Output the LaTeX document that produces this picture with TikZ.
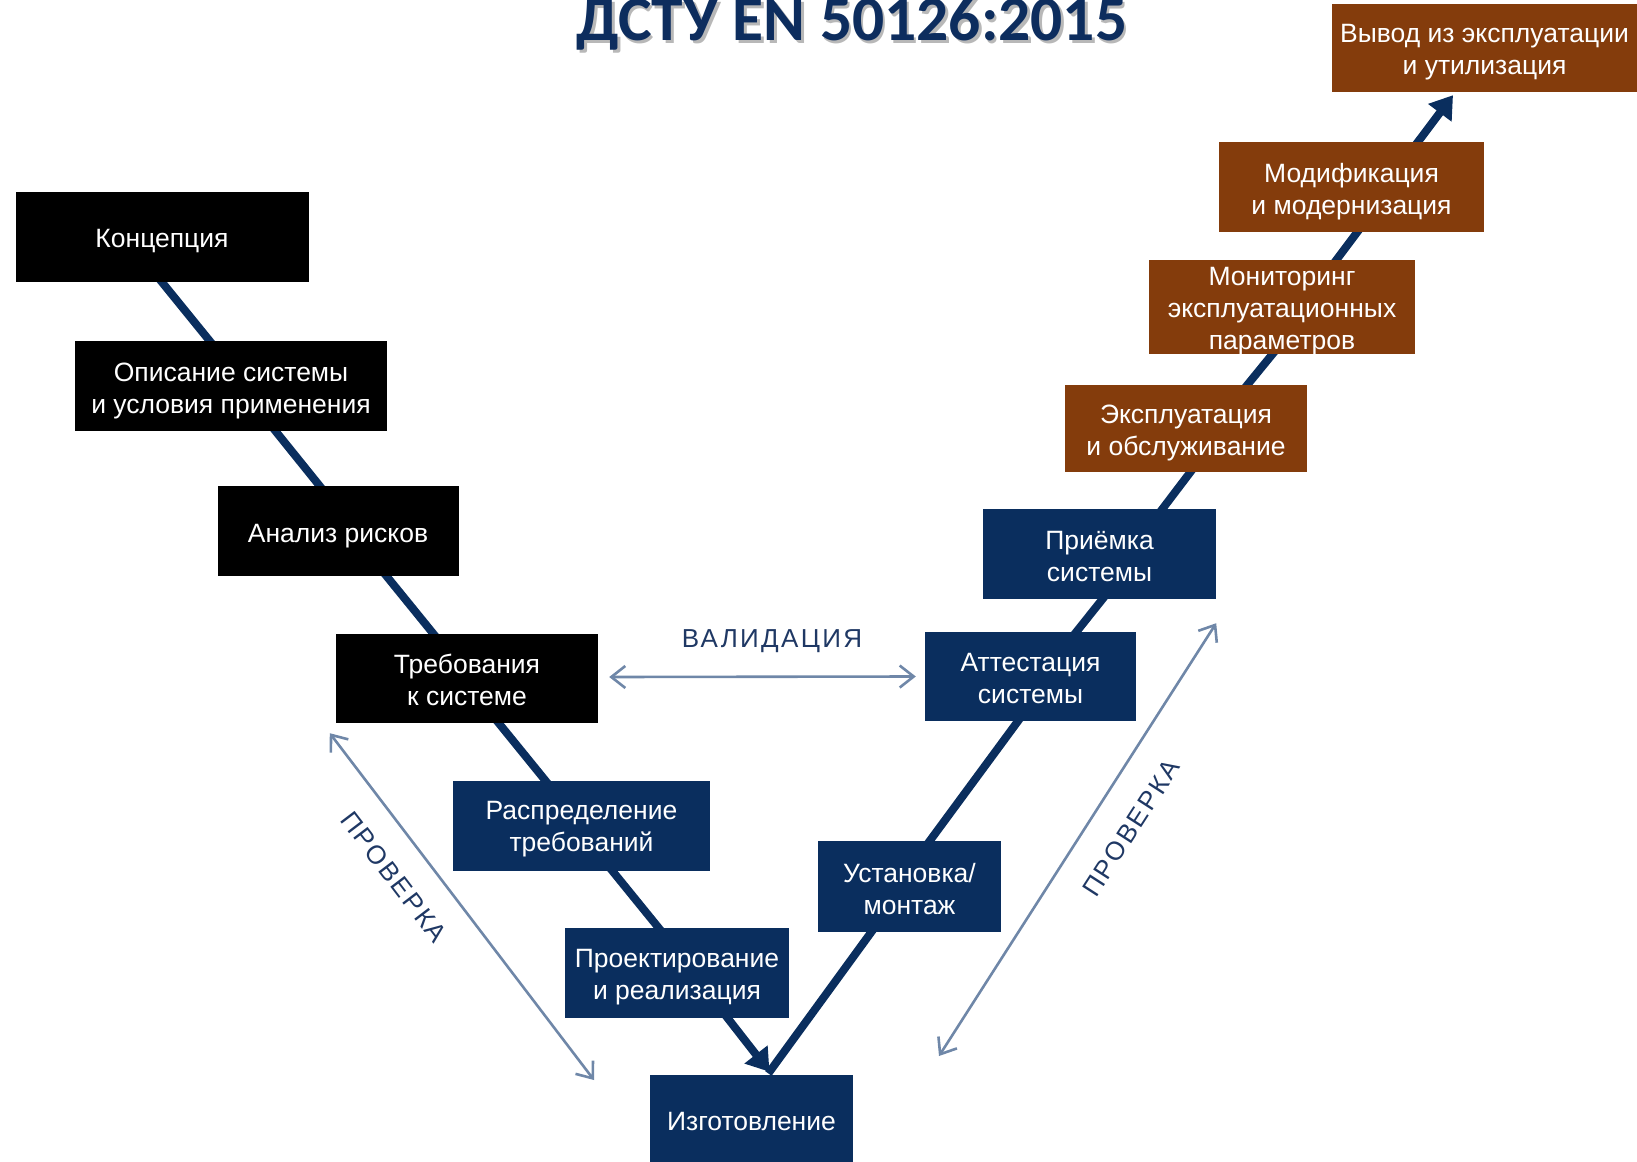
\documentclass[tikz,border=0pt]{standalone}
\usepackage{fontspec}
\setmainfont{Liberation Sans}
\newfontfamily\titlefont{Carlito}
\usetikzlibrary{arrows.meta,backgrounds,calc}
\definecolor{navy}{HTML}{0A2E5E}
\definecolor{brownbox}{HTML}{843C0C}
\definecolor{arrowgray}{HTML}{6F87A8}
\definecolor{labelnavy}{HTML}{1F3864}
\definecolor{titlenavy}{HTML}{0D2D5E}
\newcommand\boxlabel[3]{\node[boxtext] (#1-text) at ([yshift=-#2pt]#1.center) {#3};}
\begin{document}
\begin{tikzpicture}[x=1pt,y=-1pt,
  box/.style={rectangle, inner sep=0pt},
  boxtext/.style={inner sep=0pt, text=white, align=center, font=\fontsize{26.5}{32}\selectfont},
  blackbox/.style={box, fill=black},
  navybox/.style={box, fill=navy},
  brownbx/.style={box, fill=brownbox},
  conn/.style={draw=navy, line width=8pt, shorten <=-8pt, shorten >=-8pt},
  connarrow/.style={draw=navy, line width=8pt, shorten <=-8pt, -{Triangle[width=28pt,length=22pt]}},
  check/.style={draw=arrowgray, line width=2.6pt, {Straight Barb[length=14pt,width=22pt]}-{Straight Barb[length=14pt,width=22pt]}},
  lbl/.style={text=labelnavy, inner sep=0pt, font=\fontsize{26}{30}\selectfont\addfontfeatures{LetterSpace=9}},
  ttl/.style={inner sep=0pt, anchor=base, font=\titlefont\bfseries\fontsize{63.5}{64}\selectfont}
]
\clip (0,0) rectangle (1637,1161);

% title
\node[ttl, text=black!28] (titleshadow) at (854.5,43.5) {ДСТУ EN 50126:2015};
\node[ttl, text=titlenavy] (title) at (852,41) {ДСТУ EN 50126:2015};

% boxes
\node[blackbox, minimum width=293pt, minimum height=90pt] (conc) at (162,237) {};
\node[blackbox, minimum width=312pt, minimum height=90pt] (desc) at (231,386) {};
\node[blackbox, minimum width=241pt, minimum height=90pt] (risk) at (338,531) {};
\node[blackbox, minimum width=262pt, minimum height=89pt] (req) at (467,678.5) {};
\node[navybox, minimum width=257pt, minimum height=90pt] (alloc) at (581.5,826) {};
\node[navybox, minimum width=224pt, minimum height=90pt] (design) at (677,973) {};
\node[navybox, minimum width=203pt, minimum height=90pt] (manuf) at (751.5,1120) {};
\node[navybox, minimum width=183pt, minimum height=91pt] (inst) at (909.5,886.5) {};
\node[navybox, minimum width=211pt, minimum height=89pt] (valid) at (1030.5,676.5) {};
\node[navybox, minimum width=233pt, minimum height=90pt] (accept) at (1099.5,554) {};
\node[brownbx, minimum width=242pt, minimum height=87pt] (oper) at (1186,428.5) {};
\node[brownbx, minimum width=266pt, minimum height=94pt] (mon) at (1282,307) {};
\node[brownbx, minimum width=265pt, minimum height=90pt] (mod) at (1351.5,187) {};
\node[brownbx, minimum width=305pt, minimum height=88pt] (disp) at (1484.5,48) {};

% box texts
\boxlabel{conc}{4.5}{Концепция}
\boxlabel{desc}{5}{Описание системы\\и условия применения}
\boxlabel{risk}{5}{Анализ рисков}
\boxlabel{req}{1.5}{Требования\\к системе}
\boxlabel{alloc}{3.5}{Распределение\\требований}
\boxlabel{design}{4.5}{Проектирование\\и реализация}
\boxlabel{manuf}{1.5}{Изготовление}
\boxlabel{inst}{3}{Установка/\\монтаж}
\boxlabel{valid}{2}{Аттестация\\системы}
\boxlabel{accept}{3}{Приёмка\\системы}
\boxlabel{oper}{4}{Эксплуатация\\и обслуживание}
\boxlabel{mon}{4}{Мониторинг\\эксплуатационных\\параметров}
\boxlabel{mod}{4.5}{Модификация\\и модернизация}
\boxlabel{disp}{4}{Вывод из эксплуатации\\и утилизация}

% connector tips
\coordinate (vtip) at ([xshift=18pt,yshift=3pt]manuf.north);
\coordinate (ttip) at ([xshift=-31.5pt,yshift=-3pt]disp.south);

\begin{scope}[on background layer]
\draw[conn] (conc.south) -- ([xshift=-21.4pt]desc.north);
\draw[conn] ([xshift=44.6pt]desc.south) -- ([xshift=-18.4pt]risk.north);
\draw[conn] ([xshift=48.6pt]risk.south) -- ([xshift=-33.6pt]req.north);
\draw[conn] ([xshift=31.8pt]req.south) -- ([xshift=-35.9pt]alloc.north);
\draw[conn] ([xshift=31.1pt]alloc.south) -- ([xshift=-18.4pt]design.north);
\draw[conn, shorten >=-2pt] ([xshift=-38.3pt]inst.south) -- (vtip);
\draw[connarrow] ([xshift=50.7pt]design.south) -- (vtip);
\draw[conn] ([xshift=-12.6pt]valid.south) -- ([xshift=20.3pt]inst.north);
\draw[conn] ([xshift=2.9pt]accept.south) -- ([xshift=45.9pt]valid.north);
\draw[conn] ([xshift=4.3pt]oper.south) -- ([xshift=63pt]accept.north);
\draw[conn] ([xshift=-9.6pt]mon.south) -- ([xshift=61.4pt]oper.north);
\draw[conn] ([xshift=5.7pt]mod.south) -- ([xshift=54.5pt]mon.north);
\draw[connarrow] ([xshift=66.5pt]mod.north) -- (ttip);
\end{scope}

% check arrows
\coordinate (chkL1) at ([xshift=-6pt,yshift=-10pt]req.south west);
\coordinate (chkL2) at (594,1080);
\coordinate (chkR1) at ([yshift=-24pt]accept.south east);
\coordinate (chkR2) at (939,1056);
\draw[check] ([xshift=11pt,yshift=1.5pt]req.east) -- ([xshift=-9pt]valid.west);
\draw[check] (chkL1) -- (chkL2);
\draw[check] (chkR1) -- (chkR2);

% labels
\node[lbl] (vlab) at (772,641) {ВАЛИДАЦИЯ};
\node[lbl, rotate=-52.7] (plab1) at (394,877) {ПРОВЕРКА};
\node[lbl, rotate=57.2] (plab2) at (1131,828) {ПРОВЕРКА};
\end{tikzpicture}
\end{document}
